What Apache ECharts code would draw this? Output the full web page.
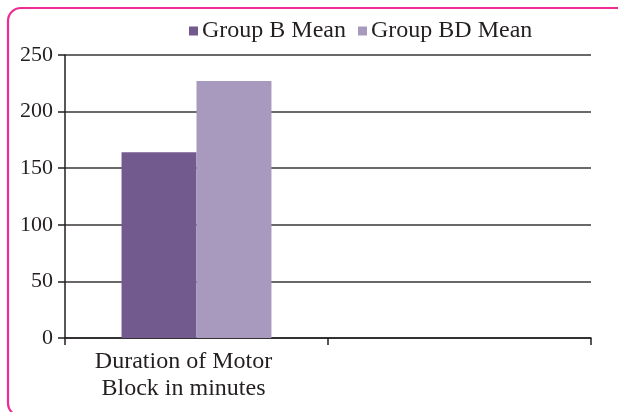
<!DOCTYPE html>
<html>
<head>
<meta charset="utf-8">
<script src="https://cdn.jsdelivr.net/npm/echarts@6/dist/echarts.min.js"></script>
<style>
  html, body { margin: 0; padding: 0; background: #fff; }
  #chart { width: 618px; height: 412px; }
</style>
</head>
<body>
<div id="chart"></div>
<script>
// Category labels and series values
const categories = ['Duration of Motor\nBlock in minutes', ''];
const groupBMean = [164, null];
const groupBDMean = [227, null];
const seriesNames = ['Group B Mean', 'Group BD Mean'];
const yTicks = { min: 0, max: 250, step: 50 };

const FONT = '"Liberation Serif", "DejaVu Serif", serif';
const INK = '#231f20';

const chart = echarts.init(document.getElementById('chart'), null, { renderer: 'canvas' });

chart.setOption({
  animation: false,
  backgroundColor: '#ffffff',
  textStyle: { fontFamily: FONT },
  graphic: [{
    type: 'rect',
    silent: true,
    z: -1,
    shape: { x: 8, y: 8, width: 622, height: 408, r: 13 },
    style: { fill: 'none', stroke: '#ee2a93', lineWidth: 2.2 }
  }],
  legend: {
    top: 14,
    left: 184,
    itemWidth: 9,
    itemHeight: 9,
    itemGap: 12,
    icon: 'rect',
    textStyle: { fontFamily: FONT, fontSize: 24, color: INK, padding: [0, 0, 0, -1] },
    data: seriesNames
  },
  grid: { left: 65, right: 27, top: 55, bottom: 74, containLabel: false },
  xAxis: {
    type: 'category',
    data: categories,
    axisLine: { show: true, lineStyle: { color: INK, width: 1.5 } },
    axisTick: { show: true, alignWithLabel: false, length: 7, lineStyle: { color: INK, width: 1.5 } },
    axisLabel: {
      fontFamily: FONT, fontSize: 24, color: INK, lineHeight: 27, margin: 10, interval: 0,
      padding: [0, 26, 0, 0]
    },
    splitLine: { show: false }
  },
  yAxis: {
    type: 'value',
    min: yTicks.min,
    max: yTicks.max,
    interval: yTicks.step,
    axisLine: { show: true, lineStyle: { color: INK, width: 1.5 } },
    axisTick: { show: true, length: 7, lineStyle: { color: INK, width: 1.5 } },
    axisLabel: { fontFamily: FONT, fontSize: 22, color: INK, margin: 12 },
    splitLine: { show: true, lineStyle: { color: '#3a3637', width: 1.5 } }
  },
  series: [
    {
      name: seriesNames[0],
      type: 'bar',
      data: groupBMean,
      barGap: '0%',
      barCategoryGap: '43%',
      itemStyle: { color: '#725a8f' }
    },
    {
      name: seriesNames[1],
      type: 'bar',
      data: groupBDMean,
      barGap: '0%',
      barCategoryGap: '43%',
      itemStyle: { color: '#a89abe' }
    }
  ]
});
</script>
</body>
</html>
